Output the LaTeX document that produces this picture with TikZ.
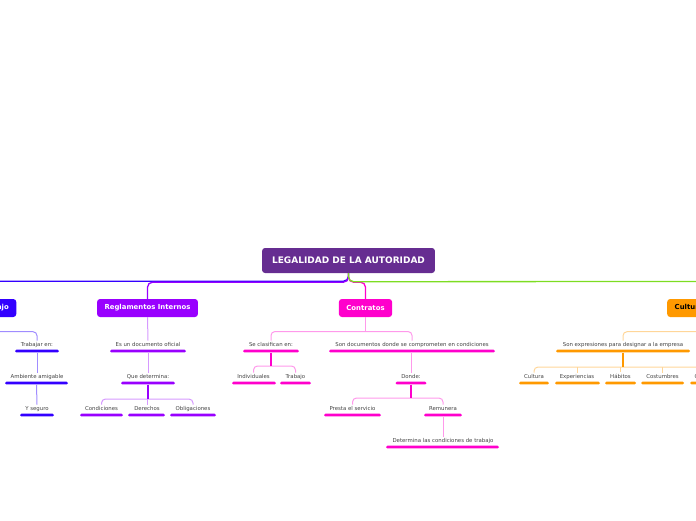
\documentclass[tikz,border=0pt]{standalone}
\usepackage{fontspec}
\setmainfont{DejaVu Sans}
\definecolor{mmRoot}{RGB}{102,45,145}
\definecolor{mmBlue}{RGB}{51,0,255}
\definecolor{mmPurple}{RGB}{153,0,255}
\definecolor{mmPink}{RGB}{255,0,204}
\definecolor{mmOrange}{RGB}{255,153,0}
\definecolor{mmGreen}{RGB}{125,221,34}
\definecolor{mmText}{RGB}{68,68,68}
\definecolor{mmBlueL}{RGB}{160,140,255}
\definecolor{mmPurpleL}{RGB}{214,153,255}
\definecolor{mmPinkL}{RGB}{255,153,235}
\definecolor{mmOrangeL}{RGB}{255,214,153}
\begin{document}
\begin{tikzpicture}[x=1pt,y=-1pt,
  box/.style={rectangle, rounded corners=3pt, minimum height=18pt, inner xsep=7.5pt, inner ysep=0pt, font=\fontsize{6.9}{8}\selectfont\bfseries, text=white},
  lab/.style={font=\fontsize{5.4}{6}\selectfont, text=mmText, inner xsep=0pt, inner ysep=1.2pt, anchor=base},
  bar/.style={rectangle, rounded corners=1.4pt, minimum height=2.8pt, inner sep=0pt, fill=#1},
  mainc/.style={draw=#1, line width=1.3pt, rounded corners=5pt},
  subc/.style={draw=#1, line width=1pt, rounded corners=4pt},
  stem/.style={draw=#1, line width=1.5pt}
]
\useasboundingbox (0,0) rectangle (696,520);

% level 0 and 1
\node[box, fill=mmRoot, minimum height=25pt, inner xsep=10pt, font=\fontsize{9}{10}\selectfont\bfseries] (root) at (348.5,260.5) {LEGALIDAD DE LA AUTORIDAD};
\node[box, fill=mmBlue, anchor=east] (nb) at (16.5,308) {Trabajo};
\node[box, fill=mmPurple] (nr) at (147.5,308) {Reglamentos Internos};
\node[box, fill=mmPink] (nk) at (365.5,308) {Contratos};
\node[box, fill=mmOrange, text=black, anchor=west] (no) at (667,308) {Cultura organizacional};
\coordinate (gEnd) at (700,281.5);

\draw[mainc=mmOrange, line width=0.5pt] (root.south) -- ++(0,8.5) -| (no.north);
\draw[mainc=mmBlue] (root.south) -- ++(0,8) -| (nb.north);
\draw[mainc=mmPurple] (root.south) -- ++(0,9) -| (nr.north);
\draw[mainc=mmPink] (root.south) -- ++(0,9) -| (nk.north);
\draw[mainc=mmGreen] (root.south) -- ++(0,8.5) -- (gEnd);

% blue branch
\node[lab] (b1) at (37,346) {Trabajar en:};
\node[bar=mmBlue, minimum width=44pt] (b1u) at (37,351) {};
\node[lab] (b2) at (37,378) {Ambiente amigable};
\node[bar=mmBlue, minimum width=63pt] (b2u) at (36.5,383) {};
\node[lab] (b3) at (37,410) {Y seguro};
\node[bar=mmBlue, minimum width=34pt] (b3u) at (37,415) {};
\draw[subc=mmBlueL] (nb.south) -- ++(0,14.5) -| (b1.north);
\draw[subc=mmBlueL] (b1u.south) -- (b2.north);
\draw[subc=mmBlueL] (b2u.south) -- (b3.north);

% purple branch
\node[lab] (r1) at (148,346) {Es un documento oficial};
\node[bar=mmPurple, minimum width=76pt] (r1u) at (148,351) {};
\node[lab] (r2) at (148,378) {Que determina:};
\node[bar=mmPurple, minimum width=54pt] (r2u) at (148,383) {};
\node[lab] (r3) at (101.5,410) {Condiciones};
\node[bar=mmPurple, minimum width=43pt] (r3u) at (101.5,415) {};
\node[lab] (r4) at (147,410) {Derechos};
\node[bar=mmPurple, minimum width=37pt] (r4u) at (146.5,415) {};
\node[lab] (r5) at (193,410) {Obligaciones};
\node[bar=mmPurple, minimum width=46pt] (r5u) at (193,415) {};
\coordinate (jr) at (148,399);
\draw[subc=mmPurpleL] (nr.south) -- (r1.north);
\draw[subc=mmPurpleL] (r1u.south) -- (r2.north);
\draw[subc=mmPurpleL] (r3.north) |- (jr) -| (r5.north);
\draw[subc=mmPurpleL] (r4.north |- jr) -- (r4.north);
\draw[stem=mmPurple] (r2u.south) -- (jr);

% pink branch
\node[lab] (k1) at (271,346) {Se clasifican en:};
\node[bar=mmPink, minimum width=56pt] (k1u) at (271,351) {};
\node[lab] (k2) at (412,346) {Son documentos donde se comprometen en condiciones};
\node[bar=mmPink, minimum width=166pt] (k2u) at (412,351) {};
\coordinate (jk) at (365.5,331.5);
\draw[subc=mmPinkL] (k1.north) |- (jk) -| (k2.north);
\draw[subc=mmPinkL] (nk.south) -- (jk);
\node[lab] (k3) at (253.5,378) {Individuales};
\node[bar=mmPink, minimum width=44pt] (k3u) at (254,383) {};
\node[lab] (k4) at (295.5,378) {Trabajo};
\node[bar=mmPink, minimum width=31pt] (k4u) at (295.5,383) {};
\coordinate (jk2) at (271,366);
\draw[subc=mmPinkL] (k3.north) |- (jk2) -| (k4.north);
\draw[stem=mmPink] (k1u.south) -- (jk2);
\node[lab] (k5) at (411,378) {Donde:};
\node[bar=mmPink, minimum width=31pt] (k5u) at (411,383) {};
\draw[subc=mmPinkL] (k5.north |- k2u.south) -- (k5.north);
\node[lab] (k6) at (352.5,410) {Presta el servicio};
\node[bar=mmPink, minimum width=57pt] (k6u) at (352.5,415) {};
\node[lab] (k7) at (443,410) {Remunera};
\node[bar=mmPink, minimum width=38pt] (k7u) at (443,415) {};
\coordinate (jk3) at (411,398);
\draw[subc=mmPinkL] (k6.north) |- (jk3) -| (k7.north);
\draw[stem=mmPink] (k5u.south) -- (jk3);
\node[lab] (k8) at (443,442) {Determina las condiciones de trabajo};
\node[bar=mmPink, minimum width=113pt] (k8u) at (442.5,447) {};
\draw[subc=mmPinkL] (k7u.south) -- (k8.north);

% orange branch
\node[lab] (o1) at (623,346) {Son expresiones para designar a la empresa};
\node[bar=mmOrange, minimum width=134pt] (o1u) at (623,351) {};
\draw[subc=mmOrangeL] (no.south) -- ++(0,14.5) -| (o1.north);
\coordinate (jo) at (623,367);
\node[lab] (o2) at (534,378) {Cultura};
\node[bar=mmOrange, minimum width=30pt] (o2u) at (534,383) {};
\node[lab] (o3) at (577,378) {Experiencias};
\node[bar=mmOrange, minimum width=45pt] (o3u) at (577.5,383) {};
\node[lab] (o4) at (620.5,378) {Hábitos};
\node[bar=mmOrange, minimum width=31pt] (o4u) at (620.5,383) {};
\node[lab] (o5) at (662.5,378) {Costumbres};
\node[bar=mmOrange, minimum width=43pt] (o5u) at (662.5,383) {};
\node[lab] (o6) at (708,378) {Creencias};
\node[bar=mmOrange, minimum width=36pt] (o6u) at (708,383) {};
\draw[subc=mmOrangeL] (o2.north) |- (jo) -| (o6.north);
\draw[subc=mmOrangeL] (o3.north |- jo) -- (o3.north);
\draw[subc=mmOrangeL] (o4.north |- jo) -- (o4.north);
\draw[subc=mmOrangeL] (o5.north |- jo) -- (o5.north);
\draw[stem=mmOrange] (o1u.south) -- (jo);
\end{tikzpicture}
\end{document}
